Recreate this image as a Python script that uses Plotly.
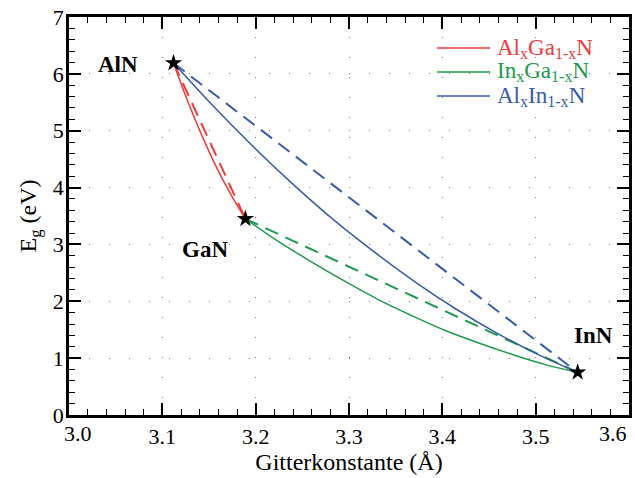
import plotly.graph_objects as go

# End-point binaries: lattice constant (Å) and band gap (eV)
compounds = ["AlN", "GaN", "InN"]
lattice_a = [3.112, 3.189, 3.545]
gap_eV = [6.19, 3.45, 0.75]

# Solid (bowed) curves
algan_a = [3.112, 3.1274, 3.1428, 3.1582, 3.1736, 3.189]
algan_e = [6.19, 5.51, 4.90, 4.35, 3.87, 3.45]

ingan_a = [3.189, 3.2246, 3.2602, 3.2958, 3.3314, 3.367, 3.4026, 3.4382, 3.4738, 3.5094, 3.545]
ingan_e = [3.45, 3.05, 2.69, 2.35, 2.03, 1.75, 1.49, 1.27, 1.07, 0.89, 0.75]

alinn_a = [3.112, 3.1553, 3.1986, 3.2419, 3.2852, 3.3285, 3.3718, 3.4151, 3.4584, 3.5017, 3.545]
alinn_e = [6.19, 5.42, 4.70, 4.03, 3.41, 2.85, 2.33, 1.86, 1.44, 1.07, 0.75]

names = ["Al<sub>x</sub>Ga<sub>1-x</sub>N", "In<sub>x</sub>Ga<sub>1-x</sub>N", "Al<sub>x</sub>In<sub>1-x</sub>N"]
colors = ["#EE3B3B", "#1E9A4E", "#3A5BAA"]
pairs = [(0, 1), (1, 2), (0, 2)]
curves = [(algan_a, algan_e), (ingan_a, ingan_e), (alinn_a, alinn_e)]
x_ticks = [3.0, 3.1, 3.2, 3.3, 3.4, 3.5, 3.6]

fig = go.Figure()

# dashed linear (Vegard) lines
for (i, j), c in zip(pairs, colors):
    fig.add_trace(go.Scatter(
        x=[lattice_a[i], lattice_a[j]], y=[gap_eV[i], gap_eV[j]],
        mode="lines", line=dict(color=c, width=2, dash="14px,8px"),
        showlegend=False, hoverinfo="skip"))

# solid bowed curves
for (xs, ys), c, n in zip(curves, colors, names):
    fig.add_trace(go.Scatter(
        x=xs, y=ys, mode="lines", line=dict(color=c, width=1.5, shape="spline"),
        name=n, showlegend=False))

# stars
fig.add_trace(go.Scatter(
    x=lattice_a, y=gap_eV, mode="markers",
    marker=dict(symbol="star", size=13, color="black", line=dict(width=0)),
    showlegend=False))

label_pos = [(3.052, 6.16), (3.146, 2.91), (3.562, 1.39)]
for name, (lx, ly) in zip(compounds, label_pos):
    fig.add_annotation(x=lx, y=ly, text=f"<b>{name}</b>", showarrow=False,
                       font=dict(size=23, color="black", family="Liberation Serif"))

# hand-drawn legend (line sample + coloured text)
leg_y = [0.922, 0.862, 0.8015]
for n, c, yy in zip(names, colors, leg_y):
    fig.add_shape(type="line", xref="paper", yref="paper", x0=0.657, x1=0.752, y0=yy, y1=yy,
                  line=dict(color=c, width=1.5))
    fig.add_annotation(xref="paper", yref="paper", x=0.761, y=yy, xanchor="left", yanchor="middle",
                       text=n, showarrow=False, height=23, valign="middle",
                       font=dict(size=23, color=c, family="Liberation Serif"))

# first / last x tick labels nudged inward (like the reference)
fig.add_annotation(xref="x", yref="paper", x=x_ticks[0], y=0, xanchor="center", yanchor="top",
                   xshift=9, yshift=-4, text=f"{x_ticks[0]:.1f}", showarrow=False,
                   font=dict(size=22, color="black", family="Liberation Serif"))
fig.add_annotation(xref="x", yref="paper", x=x_ticks[-1], y=0, xanchor="right", yanchor="top",
                   yshift=-4, text=f"{x_ticks[-1]:.1f}", showarrow=False,
                   font=dict(size=22, color="black", family="Liberation Serif"))

axis_common = dict(
    showline=True, linecolor="black", linewidth=2.5, mirror="ticks",
    ticks="inside", ticklen=12, tickwidth=1.5, tickcolor="black",
    showgrid=True, gridcolor="#777", gridwidth=1, griddash="1px,19px",
    zeroline=False, tickfont=dict(size=22, color="black"), automargin=False,
)

fig.update_xaxes(**axis_common, range=[3.0, 3.6], tickvals=x_ticks, ticktext=[""] + [f"{v:.1f}" for v in x_ticks[1:-1]] + [""],
                 minor=dict(dtick=0.02, tick0=3.0, ticks="inside", ticklen=6, tickcolor="black", tickwidth=1.2, showgrid=False),
                 title=dict(text="Gitterkonstante (Å)", font=dict(size=24, color="black"), standoff=4))
fig.update_yaxes(**axis_common, range=[0, 7], dtick=1, tick0=0, ticklabelstandoff=-2,
                 minor=dict(dtick=0.2, ticks="inside", ticklen=6, tickcolor="black", tickwidth=1.2, showgrid=False),
                 title=dict(text="E<sub>g</sub> (eV)", font=dict(size=24, color="black"), standoff=10))

fig.update_layout(
    width=635, height=478,
    margin=dict(l=69, r=6, t=17, b=63),
    paper_bgcolor="white", plot_bgcolor="white",
    font=dict(family="Liberation Serif", color="black"),
    showlegend=False,
)

fig.write_html("out.html", config={"displayModeBar": False},
               post_script="document.body.style.margin='0';")
